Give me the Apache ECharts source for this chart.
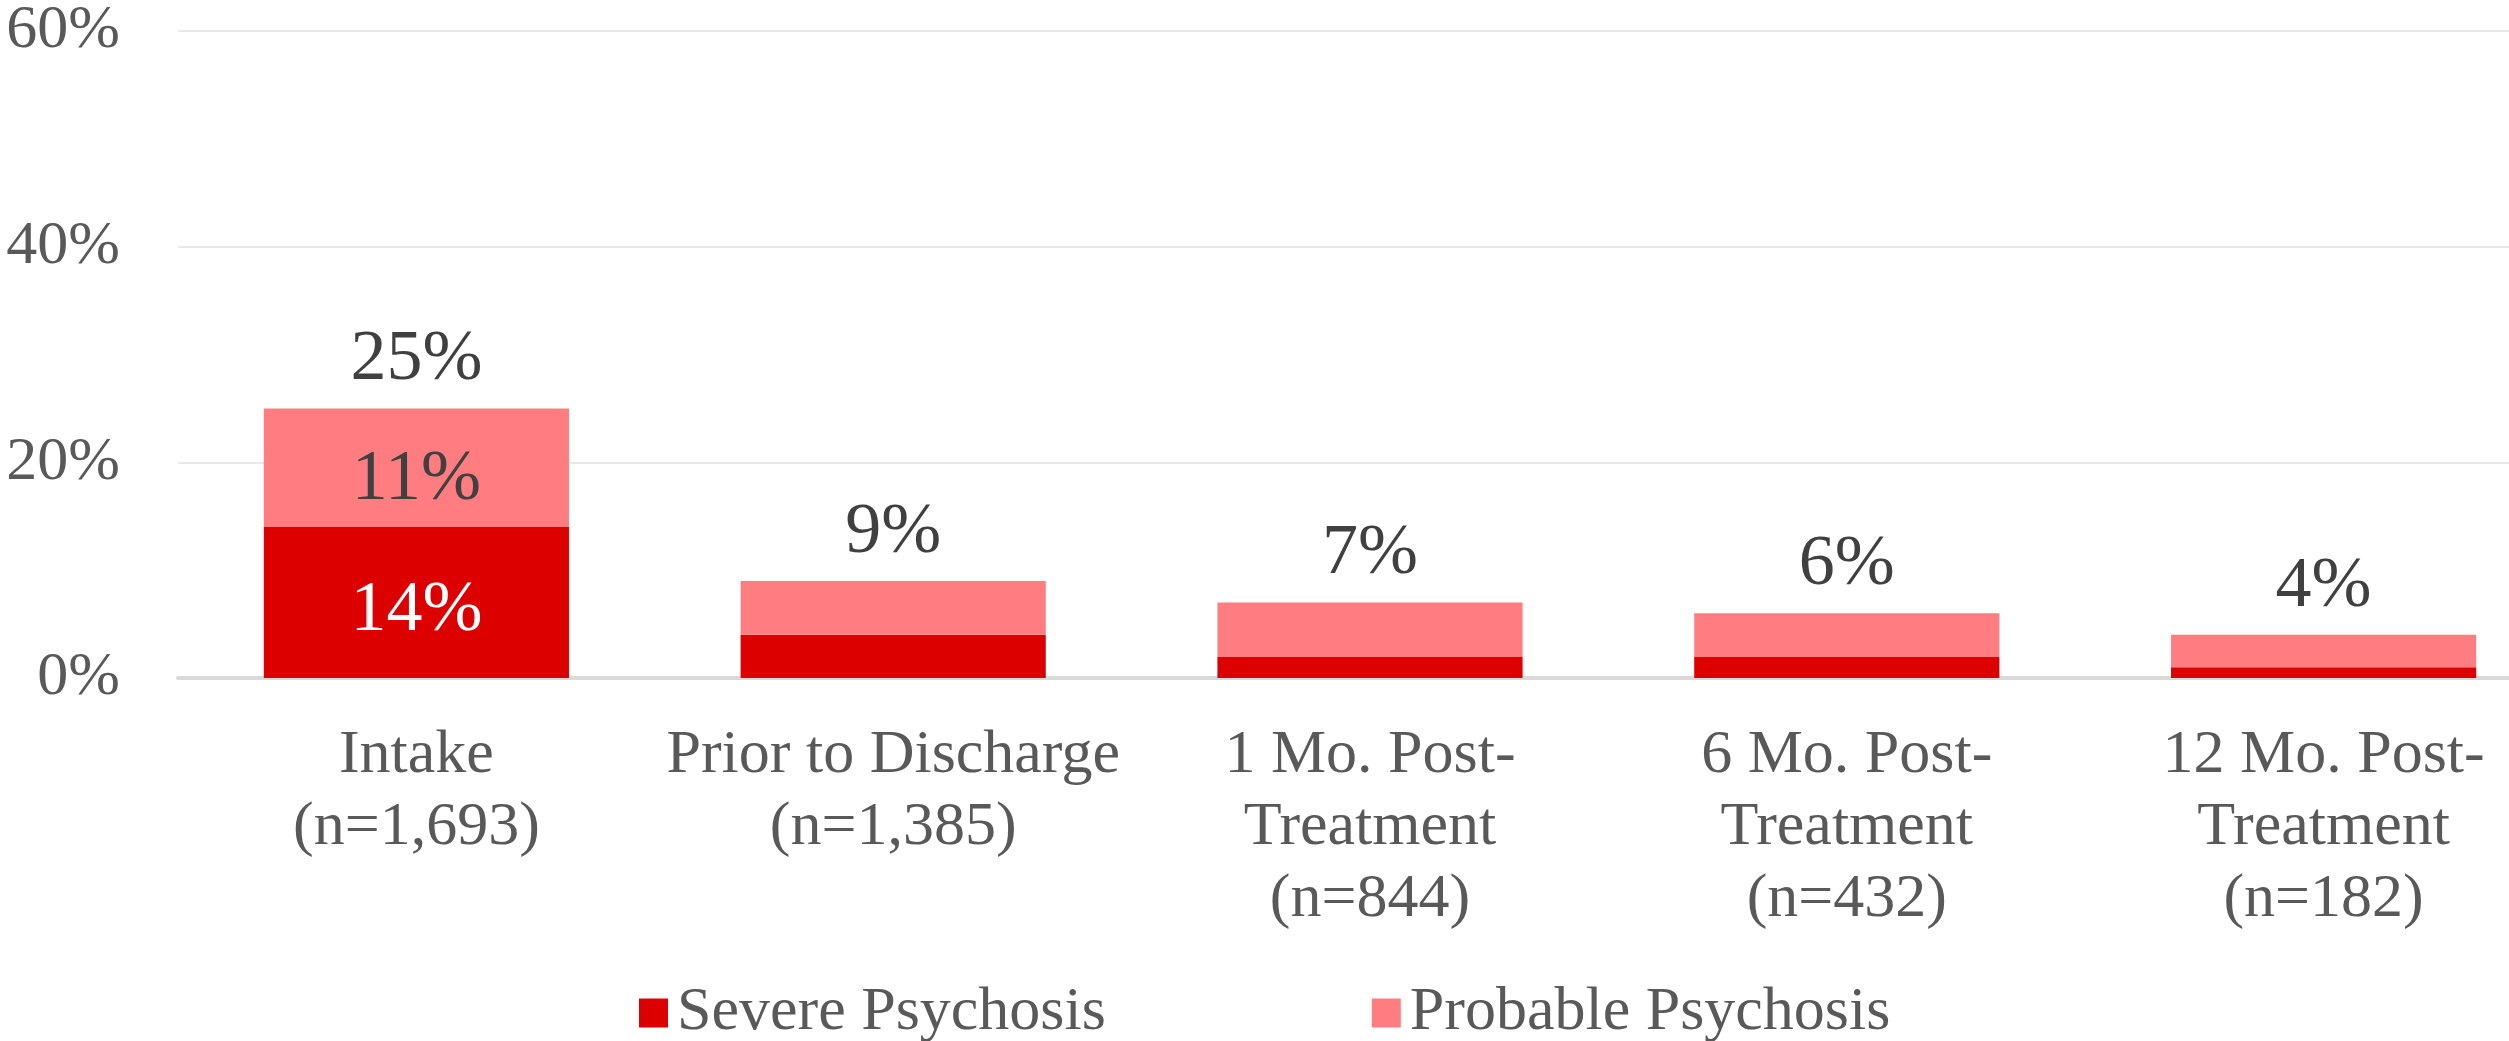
<!DOCTYPE html>
<html lang="en">
<head>
    <meta charset="UTF-8">
    <title>Psychosis by time point</title>
    <script src="https://cdn.jsdelivr.net/npm/echarts@6/dist/echarts.min.js"></script>
    <style>
        html, body { margin: 0; padding: 0; background: #fff; overflow: hidden; }
        /* the plot runs past the right edge of the picture, so the chart is wider than the window */
        #chart { width: 2562px; height: 1041px; }
    </style>
</head>
<body>
<div id="chart"></div>
<script type="text/javascript">
    // data
    var categories = [
        'Intake\n(n=1,693)',
        'Prior to Discharge\n(n=1,385)',
        '1 Mo. Post-\nTreatment\n(n=844)',
        '6 Mo. Post-\nTreatment\n(n=432)',
        '12 Mo. Post-\nTreatment\n(n=182)'
    ];
    var severe = [14, 4, 2, 2, 1];
    var probable = [11, 5, 5, 4, 3];
    var totals = [25, 9, 7, 6, 4];
    var yTicks = [0, 20, 40, 60];

    var font = 'Liberation Serif';
    var chart = echarts.init(document.getElementById('chart'));

    // only the first bar shows its segment values
    var severeData = severe.map(function (v, i) {
        return i === 0 ? { value: v, label: { show: true, color: '#ffffff' } } : v;
    });
    var probableData = probable.map(function (v, i) {
        return i === 0 ? { value: v, label: { show: true, color: '#404040' } } : v;
    });

    var option = {
        animation: false,
        backgroundColor: '#ffffff',
        grid: { left: 178, top: 29, right: 0, bottom: 363 },
        legend: {
            data: ['Severe Psychosis', 'Probable Psychosis'],
            left: 634,
            top: 977,
            icon: 'rect',
            itemWidth: 29,
            itemHeight: 29,
            itemGap: 266,
            textStyle: { fontFamily: font, fontSize: 62, color: '#595959', padding: [0, 0, 0, 4] }
        },
        xAxis: {
            type: 'category',
            data: categories,
            axisTick: { show: false },
            axisLine: { lineStyle: { color: '#d9d9d9', width: 4 } },
            axisLabel: {
                interval: 0,
                margin: 42,
                fontFamily: font,
                fontSize: 62,
                lineHeight: 72,
                color: '#595959'
            }
        },
        yAxis: {
            type: 'value',
            min: yTicks[0],
            max: yTicks[yTicks.length - 1],
            interval: 20,
            axisLine: { show: false },
            axisTick: { show: false },
            splitLine: { lineStyle: { color: '#e8e8e8', width: 2 } },
            axisLabel: {
                margin: 58,
                fontFamily: font,
                fontSize: 62,
                color: '#595959',
                formatter: '{value}%'
            }
        },
        series: [
            {
                name: 'Severe Psychosis',
                type: 'bar',
                stack: 'all',
                barCategoryGap: '36%',
                data: severeData,
                itemStyle: { color: '#dc0000' },
                label: {
                    show: false,
                    position: 'inside',
                    offset: [0, 9],
                    fontFamily: font,
                    fontSize: 72,
                    formatter: '{c}%'
                }
            },
            {
                name: 'Probable Psychosis',
                type: 'bar',
                stack: 'all',
                data: probableData,
                itemStyle: { color: '#ff7c80' },
                label: {
                    show: false,
                    position: 'inside',
                    offset: [0, 12],
                    fontFamily: font,
                    fontSize: 72,
                    formatter: '{c}%'
                }
            },
            {
                name: 'Total',
                type: 'bar',
                barGap: '-100%',
                data: totals,
                z: 1,
                itemStyle: { color: 'rgba(0,0,0,0)' },
                label: {
                    show: true,
                    position: 'top',
                    distance: 12,
                    fontFamily: font,
                    fontSize: 72,
                    color: '#404040',
                    formatter: '{c}%'
                },
                tooltip: { show: false }
            }
        ]
    };

    chart.setOption(option);
</script>
</body>
</html>
